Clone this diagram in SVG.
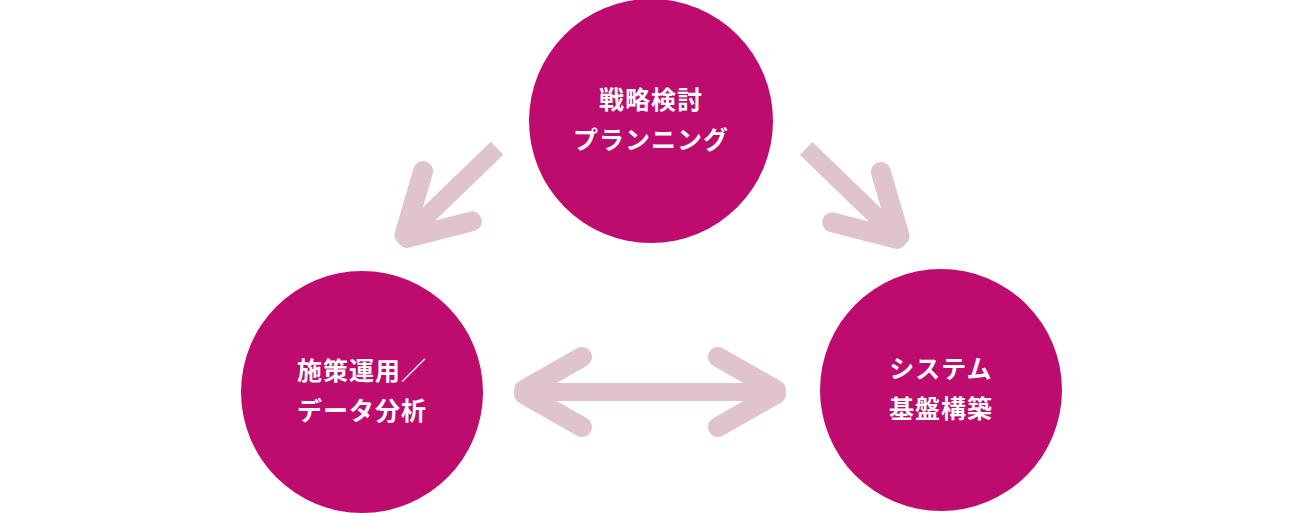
<svg xmlns="http://www.w3.org/2000/svg" width="1299" height="513" viewBox="0 0 1299 513">
<style>
.c{fill:#bd0c6d}
.t{fill:#fff;font-family:"Noto Sans CJK JP",sans-serif;font-weight:bold;font-size:25px;text-anchor:middle;letter-spacing:1px}
.a{stroke:#dfc4cb;fill:#dfc4cb}
</style>
<defs>
<g id="head" class="a">
<line x1="-66" y1="-35" x2="-8" y2="-2" stroke-width="20" stroke-linecap="round"/>
<line x1="-66" y1="35" x2="-8" y2="2" stroke-width="20" stroke-linecap="round"/>
<polygon points="0,0 -34,-22 -34,22" stroke="none"/>
</g>
</defs>
<g id="connectors">
<g transform="translate(400,242) rotate(136)">
<line x1="-10" y1="0" x2="-135" y2="0" class="a" stroke-width="18"/>
<use href="#head"/>
</g>
<g transform="translate(904,243) rotate(44)">
<line x1="-10" y1="0" x2="-136" y2="0" class="a" stroke-width="18"/>
<use href="#head"/>
</g>
<line x1="526" y1="392" x2="774" y2="392" class="a" stroke-width="18"/>
<use href="#head" transform="translate(516,392) rotate(180)"/>
<use href="#head" transform="translate(784,392)"/>
</g>
<g id="n1"><circle class="c" cx="651" cy="121" r="122"/><text class="t" x="651" y="109">戦略検討</text><text class="t" x="651" y="149">プランニング</text></g>
<g id="n2"><circle class="c" cx="362" cy="392" r="121"/><text class="t" x="362" y="380">施策運用／</text><text class="t" x="362" y="420">データ分析</text></g>
<g id="n3"><circle class="c" cx="941" cy="390" r="121"/><text class="t" x="941" y="378">システム</text><text class="t" x="941" y="418">基盤構築</text></g>
</svg>
